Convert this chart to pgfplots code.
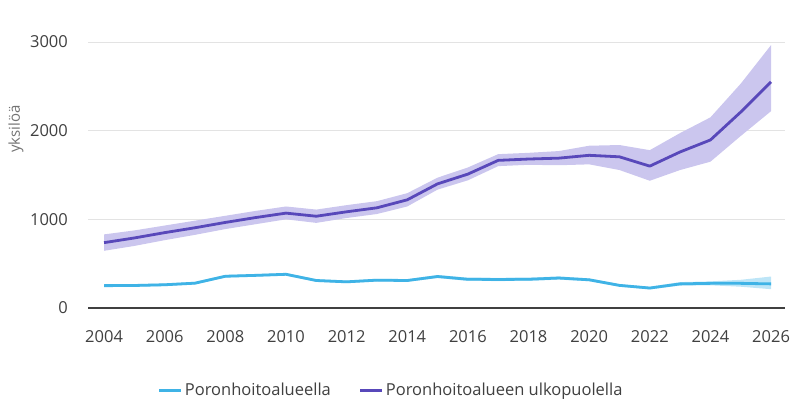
\documentclass[border=0pt]{standalone}
\usepackage{fontspec}
\setmainfont{Open Sans}
\usepackage{pgfplots}
\usepackage{pgfplotstable}
\pgfplotsset{compat=1.18}
\usepgfplotslibrary{fillbetween}

\definecolor{inside}{HTML}{3FB3E6}
\definecolor{insideband}{HTML}{BDE5F7}
\definecolor{outside}{HTML}{5848BA}
\definecolor{outsideband}{HTML}{CBC6EE}
\definecolor{ticktext}{HTML}{404040}
\definecolor{gridgrey}{HTML}{E3E3E3}

% year, estimate, lower, upper
\pgfplotstableread{
year mean lo hi
2004 252 237 267
2005 254 239 269
2006 262 247 277
2007 280 265 295
2008 358 343 373
2009 368 353 383
2010 380 365 395
2011 310 295 325
2012 295 280 310
2013 314 299 329
2014 310 295 325
2015 355 338 372
2016 324 306 342
2017 322 304 340
2018 324 306 342
2019 338 320 356
2020 318 302 334
2021 255 240 270
2022 225 210 240
2023 272 252 292
2024 278 256 300
2025 278 240 318
2026 272 212 355
}\inside

\pgfplotstableread{
year mean lo hi
2004 737 645 830
2005 790 700 875
2006 850 765 930
2007 905 825 985
2008 965 890 1040
2009 1020 945 1095
2010 1070 1000 1145
2011 1035 960 1110
2012 1085 1015 1160
2013 1130 1060 1205
2014 1220 1145 1295
2015 1400 1335 1470
2016 1510 1440 1585
2017 1665 1600 1735
2018 1680 1615 1750
2019 1690 1610 1770
2020 1722 1620 1830
2021 1705 1556 1838
2022 1600 1435 1780
2023 1760 1556 1973
2024 1895 1650 2150
2025 2210 1940 2530
2026 2550 2220 2965
}\outside

\begin{document}
\begin{tikzpicture}
\begin{axis}[
  at={(88pt,98pt)}, anchor=south west,
  scale only axis,
  width=697pt, height=266pt,
  xmin=2003.47, xmax=2026.46,
  ymin=0, ymax=3000,
  xtick={2004,2006,...,2026},
  ytick={1000,2000,3000},
  extra y ticks={0},
  extra y tick style={grid style={color=black!75, line width=1.3pt}},
  /pgf/number format/1000 sep={},
  /pgf/number format/assume math mode=true,
  ticklabel style={font=\fontsize{16.5}{19}\selectfont, text=ticktext, inner sep=0pt},
  xticklabel style={anchor=north, yshift=-22pt},
  yticklabel style={anchor=east, xshift=-20pt},
  major tick length=0pt,
  ymajorgrids,
  grid style={gridgrey, line width=0.8pt},
  axis line style={draw=none},
  legend columns=2,
  legend style={draw=none, at={(0.1,-0.31)}, anchor=west,
    font=\fontsize{16.5}{19}\selectfont, text=ticktext, inner sep=0pt,
    /tikz/every even column/.append style={column sep=26pt}},
  legend image code/.code={\draw[#1, line width=3pt] (0pt,0pt) -- (22pt,0pt);},
]
\addplot[draw=none, name path=ohi, forget plot] table[x=year, y=hi] {\outside};
\addplot[draw=none, name path=olo, forget plot] table[x=year, y=lo] {\outside};
\addplot[outsideband, draw=none, forget plot] fill between[of=ohi and olo];
\addplot[draw=none, name path=ihi, forget plot] table[x=year, y=hi] {\inside};
\addplot[draw=none, name path=ilo, forget plot] table[x=year, y=lo] {\inside};
\addplot[insideband, draw=none, forget plot] fill between[of=ihi and ilo];
\addplot[inside, line width=2.8pt, line join=round] table[x=year, y=mean] {\inside};
\addplot[outside, line width=2.8pt, line join=round] table[x=year, y=mean] {\outside};
\legend{Poronhoitoalueella, Poronhoitoalueen ulkopuolella}
\end{axis}
\node[rotate=90, text=black!55, font=\fontsize{15}{17}\selectfont, inner sep=0pt] at (16pt,277pt) {yksilöä};
\pgfresetboundingbox
\path (0,0) rectangle (800pt,406pt);
\end{tikzpicture}
\end{document}
